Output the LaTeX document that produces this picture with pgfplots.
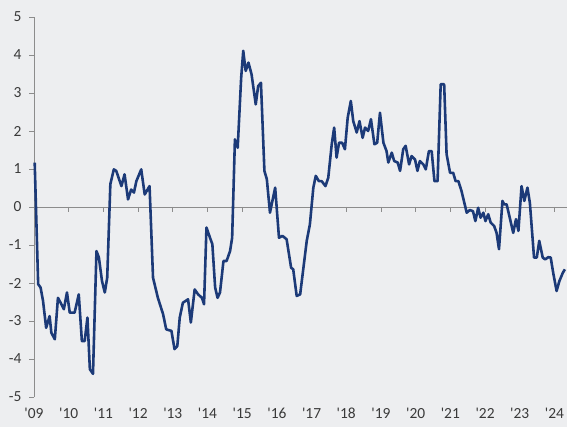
\documentclass[border=0pt]{standalone}
\usepackage{pgfplots}
\pgfplotsset{compat=1.18}
\usepackage{fontspec}
\setmainfont{Carlito}
\usetikzlibrary{backgrounds}
\definecolor{bg}{HTML}{EDEEF0}
\definecolor{navy}{HTML}{1C3A78}
\definecolor{axgray}{HTML}{8C8C8C}
\definecolor{lbl}{HTML}{3A3A3A}

\begin{document}
\begin{tikzpicture}[background rectangle/.style={fill=bg,draw=none},show background rectangle,inner frame sep=0pt]
	\begin{axis}[
			name=ax,
			scale only axis,
			width=533bp, height=380bp,
			xmin=2009, xmax=2024.36,
			ymin=-5, ymax=5,
			axis y line*=left,
			axis x line*=bottom,
			x axis line style={draw=none},
			y axis line style={axgray, line width=0.8pt},
			xtick={2009,...,2024},
			xticklabels={\textquotesingle09,\textquotesingle10,\textquotesingle11,\textquotesingle12,\textquotesingle13,\textquotesingle14,\textquotesingle15,\textquotesingle16,\textquotesingle17,\textquotesingle18,\textquotesingle19,\textquotesingle20,\textquotesingle21,\textquotesingle22,\textquotesingle23,\textquotesingle24},
			xtick style={draw=none},
			ytick={-5,...,5},
			yticklabels={-5,-4,-3,-2,-1,0,1,2,3,4,5},
			ytick style={axgray, line width=0.8pt},
			tick align=outside,
			major tick length=5bp,
			ticklabel style={font=\fontsize{15.5}{18}\selectfont, text=lbl},
			xticklabel style={yshift=-5bp, inner sep=1bp},
			yticklabel style={xshift=-4bp},
			clip=false,
		]
		\draw[axgray, line width=0.8pt] (axis cs:2009,0) -- (axis cs:2024.36,0);
		\pgfplotsinvokeforeach{2010,2011,2012,2013,2014,2015,2016,2017,2018,2019,2020,2021,2022,2023,2024}{
			\draw[axgray, line width=0.8pt] (axis cs:#1,0) -- ([yshift=-5bp]axis cs:#1,0);
		}
		\addplot[navy, line width=2.6pt, line join=round, sharp plot] coordinates {
				(2009.02, 1.17) (2009.12, -2.03) (2009.19, -2.12) (2009.26, -2.47)
				(2009.35, -3.18) (2009.45, -2.87) (2009.50, -3.31) (2009.60, -3.48)
				(2009.69, -2.39) (2009.79, -2.56) (2009.86, -2.69) (2009.95, -2.25)
				(2010.03, -2.78) (2010.17, -2.78) (2010.29, -2.30) (2010.38, -3.53)
				(2010.46, -3.53) (2010.54, -2.91) (2010.61, -4.27) (2010.70, -4.39)
				(2010.80, -1.16) (2010.87, -1.33) (2010.96, -1.95) (2011.04, -2.25)
				(2011.11, -1.86) (2011.20, 0.60) (2011.30, 0.99) (2011.37, 0.95)
				(2011.52, 0.55) (2011.61, 0.86) (2011.71, 0.20) (2011.80, 0.46)
				(2011.88, 0.38) (2011.95, 0.68) (2012.09, 0.99) (2012.19, 0.33)
				(2012.33, 0.55) (2012.43, -1.86) (2012.57, -2.39) (2012.72, -2.82)
				(2012.81, -3.22) (2012.96, -3.26) (2013.05, -3.74) (2013.13, -3.66)
				(2013.20, -2.91) (2013.29, -2.52) (2013.44, -2.43) (2013.52, -3.04)
				(2013.63, -2.17) (2013.73, -2.30) (2013.84, -2.39) (2013.90, -2.56)
				(2013.97, -0.54) (2014.08, -0.83) (2014.14, -0.98) (2014.22, -2.12)
				(2014.29, -2.39) (2014.36, -2.25) (2014.46, -1.42) (2014.55, -1.42)
				(2014.65, -1.16) (2014.71, -0.81) (2014.79, 1.78) (2014.87, 1.56)
				(2014.97, 3.40) (2015.03, 4.11) (2015.10, 3.58) (2015.18, 3.80)
				(2015.27, 3.49) (2015.39, 2.70) (2015.46, 3.18) (2015.54, 3.27)
				(2015.64, 0.95) (2015.71, 0.73) (2015.80, -0.15) (2015.95, 0.51)
				(2016.06, -0.81) (2016.16, -0.76) (2016.28, -0.85) (2016.41, -1.60)
				(2016.47, -1.64) (2016.57, -2.34) (2016.67, -2.30) (2016.86, -0.89)
				(2016.95, -0.46) (2017.05, 0.51) (2017.12, 0.82) (2017.21, 0.68)
				(2017.29, 0.68) (2017.40, 0.55) (2017.48, 0.77) (2017.58, 1.65)
				(2017.65, 2.09) (2017.72, 1.30) (2017.79, 1.69) (2017.88, 1.69)
				(2017.96, 1.52) (2018.04, 2.35) (2018.13, 2.79) (2018.20, 2.26)
				(2018.30, 1.96) (2018.38, 2.26) (2018.47, 1.82) (2018.54, 2.09)
				(2018.63, 2.00) (2018.71, 2.31) (2018.81, 1.65) (2018.89, 1.69)
				(2018.97, 2.48) (2019.07, 1.69) (2019.16, 1.47) (2019.21, 1.17)
				(2019.31, 1.43) (2019.38, 1.21) (2019.48, 1.17) (2019.55, 0.95)
				(2019.64, 1.52) (2019.71, 1.61) (2019.81, 1.12) (2019.88, 1.34)
				(2019.98, 1.25) (2020.05, 0.95) (2020.12, 1.21) (2020.22, 1.12)
				(2020.29, 0.99) (2020.38, 1.47) (2020.46, 1.47) (2020.54, 0.68)
				(2020.63, 0.68) (2020.72, 3.23) (2020.82, 3.23) (2020.89, 1.39)
				(2020.99, 0.90) (2021.08, 0.90) (2021.15, 0.68) (2021.23, 0.68)
				(2021.32, 0.42) (2021.47, -0.15) (2021.56, -0.08) (2021.65, -0.11)
				(2021.72, -0.37) (2021.80, -0.02) (2021.87, -0.28) (2021.95, -0.15)
				(2022.01, -0.37) (2022.09, -0.19) (2022.16, -0.41) (2022.26, -0.50)
				(2022.33, -0.68) (2022.40, -1.11) (2022.50, 0.16) (2022.55, 0.07)
				(2022.62, 0.07) (2022.72, -0.32) (2022.81, -0.68) (2022.89, -0.32)
				(2022.96, -0.63) (2023.05, 0.55) (2023.13, 0.16) (2023.22, 0.51)
				(2023.29, 0.11) (2023.41, -1.33) (2023.49, -1.33) (2023.56, -0.89)
				(2023.66, -1.33) (2023.73, -1.38) (2023.82, -1.32) (2023.89, -1.33)
				(2023.97, -1.77) (2024.06, -2.21) (2024.14, -1.95) (2024.24, -1.73)
				(2024.30, -1.64)
			};
	\end{axis}
	\pgfresetboundingbox
	\path[use as bounding box] ([xshift=-34bp,yshift=-30bp]ax.south west) rectangle ([yshift=17bp]ax.north east);
\end{tikzpicture}
\end{document}
